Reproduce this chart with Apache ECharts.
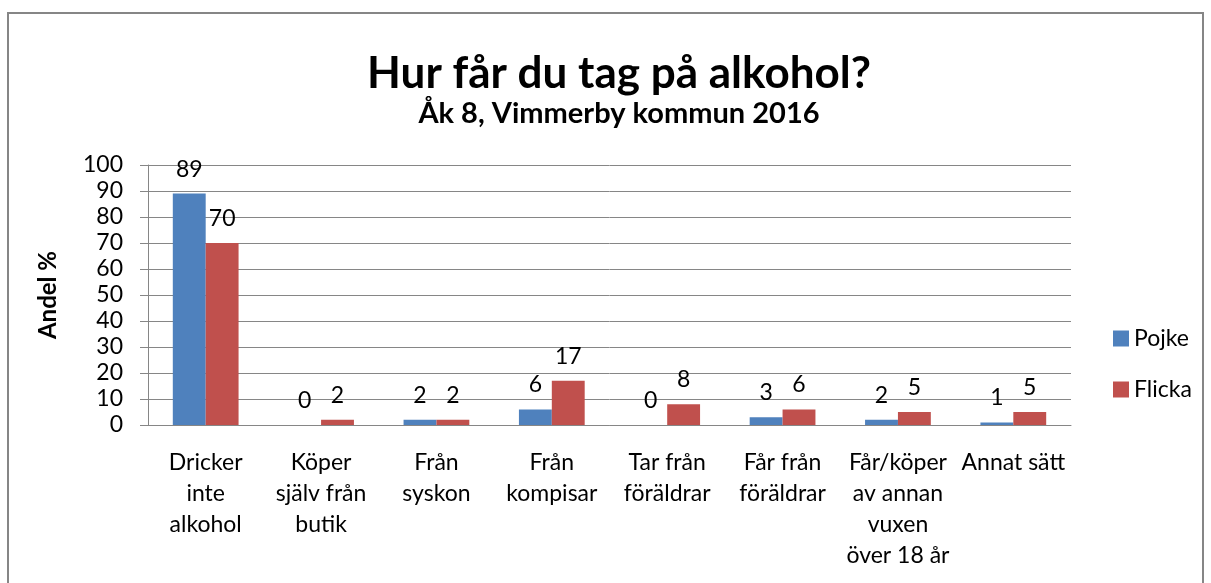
<!DOCTYPE html>
<html>
<head>
<meta charset="utf-8">
<script src="https://cdn.jsdelivr.net/npm/echarts@6/dist/echarts.min.js"></script>
<style>
  html, body { margin: 0; padding: 0; background: #fff; }
  #chart { width: 1211px; height: 583px; }
</style>
</head>
<body>
<div id="chart"></div>
<script>
const categories = [
  "Dricker\ninte\nalkohol",
  "Köper\nsjälv från\nbutik",
  "Från\nsyskon",
  "Från\nkompisar",
  "Tar från\nföräldrar",
  "Får från\nföräldrar",
  "Får/köper\nav annan\nvuxen\növer 18 år",
  "Annat sätt"
];
const pojke = [89, 0, 2, 6, 0, 3, 2, 1];
const flicka = [70, 2, 2, 17, 8, 6, 5, 5];
const yTicks = { min: 0, max: 100, interval: 10 };

const font = "Lato, 'Open Sans', sans-serif";
const grey = "#868686";

const chart = echarts.init(document.getElementById("chart"));

const labelStyle = {
  show: true,
  position: "top",
  distance: 13,
  fontFamily: font,
  fontSize: 23,
  color: "#000"
};

chart.setOption({
  animation: false,
  graphic: [
    {
      type: "rect",
      shape: { x: 8, y: 13, width: 1195, height: 600 },
      style: { fill: "none", stroke: grey, lineWidth: 2 },
      silent: true
    }
  ],
  title: {
    text: "Hur får du tag på alkohol?",
    subtext: "Åk 8, Vimmerby kommun 2016",
    left: 614,
    textAlign: "center",
    top: 47,
    itemGap: 3,
    textStyle: { fontFamily: font, fontSize: 44, lineHeight: 44, fontWeight: "bold", color: "#000" },
    subtextStyle: { fontFamily: font, fontSize: 29, lineHeight: 29, fontWeight: "bold", color: "#000" }
  },
  legend: {
    orient: "vertical",
    left: 1108,
    top: 322,
    itemWidth: 16,
    itemHeight: 16,
    itemGap: 28,
    icon: "rect",
    textStyle: { fontFamily: font, fontSize: 23, color: "#000" },
    data: ["Pojke", "Flicka"]
  },
  grid: { left: 148, right: 140, top: 165, bottom: 158 },
  xAxis: {
    type: "category",
    data: categories,
    axisLine: { lineStyle: { color: grey } },
    axisTick: { length: 8, lineStyle: { color: grey } },
    axisLabel: {
      interval: 0,
      margin: 22,
      fontFamily: font,
      fontSize: 23,
      lineHeight: 31,
      color: "#000"
    }
  },
  yAxis: {
    type: "value",
    min: yTicks.min,
    max: yTicks.max,
    interval: yTicks.interval,
    name: "Andel %",
    nameLocation: "middle",
    nameGap: 88,
    nameTextStyle: { fontFamily: font, fontSize: 24, fontWeight: "bold", color: "#000" },
    axisLine: { show: true, lineStyle: { color: grey } },
    axisTick: { show: true, length: 8, inside: false, lineStyle: { color: grey } },
    axisLabel: { margin: 25, fontFamily: font, fontSize: 23, color: "#000" },
    splitLine: { lineStyle: { color: grey } }
  },
  series: [
    {
      name: "Pojke",
      type: "bar",
      data: pojke,
      barGap: "0%",
      barCategoryGap: "43%",
      itemStyle: { color: "#4F81BD" },
      label: labelStyle
    },
    {
      name: "Flicka",
      type: "bar",
      data: flicka,
      itemStyle: { color: "#C0504D" },
      label: labelStyle
    }
  ]
});
</script>
</body>
</html>
